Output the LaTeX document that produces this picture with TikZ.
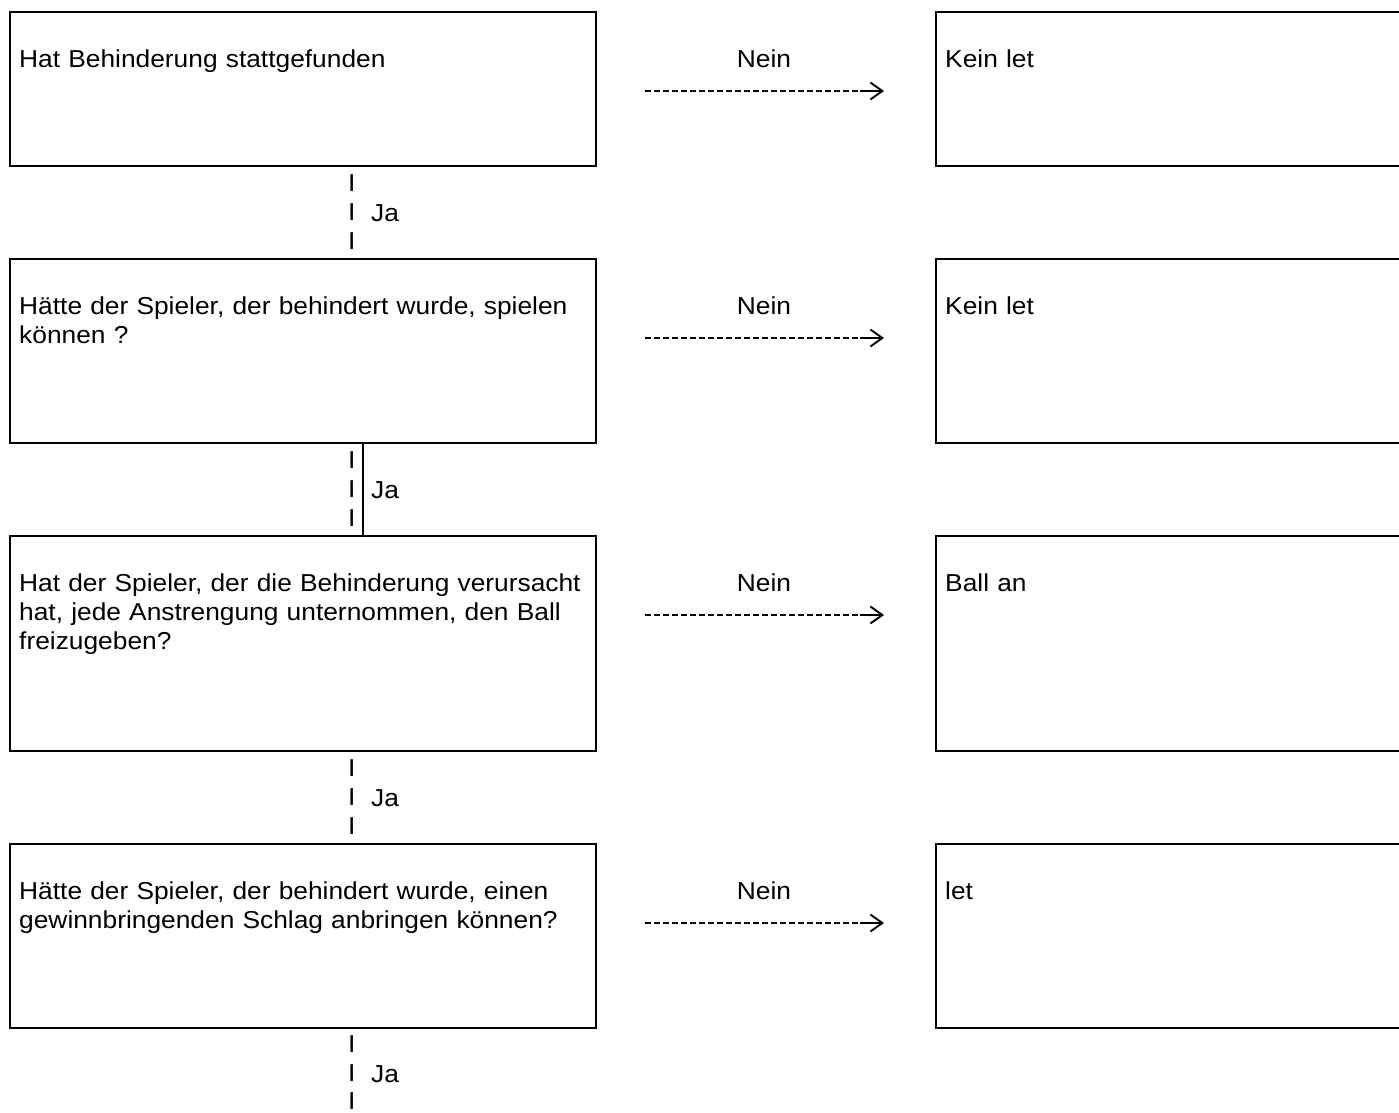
\documentclass[tikz,border=0pt]{standalone}
\usepackage{fontspec}
\setmainfont{Liberation Sans}[FakeStretch=1.075]
\usetikzlibrary{arrows.meta}
\begin{document}
\begin{tikzpicture}[x=1pt,y=-1pt,
  box/.style={draw, line width=2pt, inner sep=0pt, anchor=north west},
  txt/.style={font=\fontsize{24.5}{28.8}\selectfont, inner sep=0pt, anchor=base west, align=left, text width=620pt},
  lbl/.style={font=\fontsize{24.5}{28.8}\selectfont, inner sep=0pt, anchor=base},
  bar/.style={font=\fontsize{24.5}{28.8}\selectfont, inner sep=0pt, anchor=base west},
  dashline/.style={line width=1.8pt, dash pattern=on 6pt off 3pt},
  headline/.style={line width=1.9pt, -{Straight Barb[length=12pt,width=17pt,line width=1.9pt]}},
  vline/.style={line width=2pt}
]
\useasboundingbox (0,0) rectangle (1399,1112);
\clip (0,0) rectangle (1399,1112);

% left question boxes
\node[box, minimum width=586pt, minimum height=154pt] (q1) at (9,11) {};
\node[box, minimum width=586pt, minimum height=184pt] (q2) at (9,258) {};
\node[box, minimum width=586pt, minimum height=215pt] (q3) at (9,535) {};
\node[box, minimum width=586pt, minimum height=184pt] (q4) at (9,843) {};

% right answer boxes (cut off at the right edge)
\node[box, minimum width=520pt, minimum height=154pt] (r1) at (935,11) {};
\node[box, minimum width=520pt, minimum height=184pt] (r2) at (935,258) {};
\node[box, minimum width=520pt, minimum height=215pt] (r3) at (935,535) {};
\node[box, minimum width=520pt, minimum height=184pt] (r4) at (935,843) {};

% texts in boxes
\node[txt] (tq1) at (19,67.5) {Hat Behinderung stattgefunden};
\node[txt] (tq2) at (19,314.5) {Hätte der Spieler, der behindert wurde, spielen\\können ?};
\node[txt] (tq3) at (19,591.5) {Hat der Spieler, der die Behinderung verursacht\\hat, jede Anstrengung unternommen, den Ball\\freizugeben?};
\node[txt] (tq4) at (19,899.5) {Hätte der Spieler, der behindert wurde, einen\\gewinnbringenden Schlag anbringen können?};

\node[txt, text width=400pt] (tr1) at (945,67.5) {Kein let};
\node[txt, text width=400pt] (tr2) at (945,314.5) {Kein let};
\node[txt, text width=400pt] (tr3) at (945,591.5) {Ball an};
\node[txt, text width=400pt] (tr4) at (945,899.5) {let};

% Nein labels
\node[lbl] (n1) at (764,67.5) {Nein};
\node[lbl] (n2) at (764,314.5) {Nein};
\node[lbl] (n3) at (764,591.5) {Nein};
\node[lbl] (n4) at (764,899.5) {Nein};

% Nein arrows
\coordinate (a1s) at (645,91);  \coordinate (a1m) at (860,91);  \coordinate (a1e) at (884,91);
\coordinate (a2s) at (645,338); \coordinate (a2m) at (860,338); \coordinate (a2e) at (884,338);
\coordinate (a3s) at (645,615); \coordinate (a3m) at (860,615); \coordinate (a3e) at (884,615);
\coordinate (a4s) at (645,923); \coordinate (a4m) at (860,923); \coordinate (a4e) at (884,923);
\draw[dashline] (a1s) -- (a1m); \draw[headline] (a1m) -- (a1e);
\draw[dashline] (a2s) -- (a2m); \draw[headline] (a2m) -- (a2e);
\draw[dashline] (a3s) -- (a3m); \draw[headline] (a3m) -- (a3e);
\draw[dashline] (a4s) -- (a4m); \draw[headline] (a4m) -- (a4e);

% Ja connectors (bars of I)
\node[bar] (b1a) at (348,191.5) {I};
\node[bar] (b1b) at (348,220.5) {I};
\node[bar] (b1c) at (348,249.5) {I};
\node[bar] (j1) at (371,221.5) {Ja};

\node[bar] (b2a) at (348,468.5) {I};
\node[bar] (b2b) at (348,497.5) {I};
\node[bar] (b2c) at (348,526.5) {I};
\node[bar] (j2) at (371,498.5) {Ja};
\coordinate (vx) at (363,0);
\draw[vline] (vx |- q2.south) -- (vx |- q3.north);

\node[bar] (b3a) at (348,776.5) {I};
\node[bar] (b3b) at (348,805.5) {I};
\node[bar] (b3c) at (348,834.5) {I};
\node[bar] (j3) at (371,806.5) {Ja};

\node[bar] (b4a) at (348,1052.5) {I};
\node[bar] (b4b) at (348,1081.5) {I};
\node[bar] (b4c) at (348,1109.5) {I};
\node[bar] (j4) at (371,1082.5) {Ja};
\end{tikzpicture}
\end{document}
